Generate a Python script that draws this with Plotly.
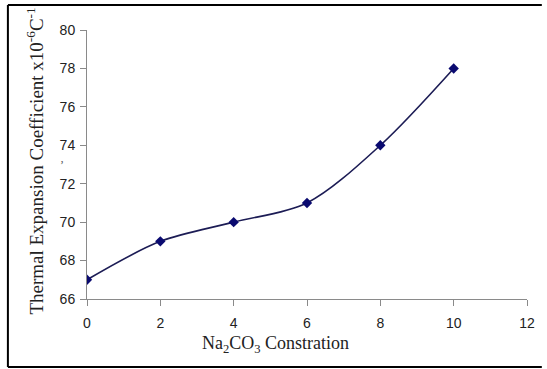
import plotly.graph_objects as go

concentration = [0, 2, 4, 6, 8, 10]
coefficient = [67, 69, 70, 71, 74, 78]
x_ticks = [0, 2, 4, 6, 8, 10, 12]
y_ticks = [66, 68, 70, 72, 74, 76, 78, 80]

W, H = 547, 369
L, R, T, B = 87, 15, 30, 70
pw, ph = W - L - R, H - T - B

def px(x):
    return (x - L) / pw

def py(y):
    return (H - B - y) / ph

fig = go.Figure()
fig.add_trace(go.Scatter(
    x=concentration, y=coefficient, mode="lines+markers",
    line=dict(color="#1c1c55", width=1.6, shape="spline", smoothing=0.9),
    marker=dict(symbol="diamond", size=8, color="#0a0a70"),
    showlegend=False,
))

axis_common = dict(
    showgrid=False, zeroline=False, showline=True, linecolor="#8a8a8a", linewidth=1,
    ticks="outside", ticklen=6, tickcolor="#8a8a8a", tickwidth=1,
    tickfont=dict(family="Liberation Sans, Arial", size=14, color="#222"),
)
fig.update_xaxes(range=[0, 12], tickvals=x_ticks, ticklabelstandoff=5, **axis_common)
fig.update_yaxes(range=[66, 80], tickvals=y_ticks, ticklabelstandoff=2, **axis_common)

fig.update_layout(
    width=W, height=H,
    margin=dict(l=L, r=R, t=T, b=B),
    paper_bgcolor="white", plot_bgcolor="white",
    annotations=[
        dict(text="Thermal Expansion Coefficient x10<sup>-6</sup>C<sup>-1</sup>",
             xref="paper", yref="paper", x=px(34), y=py(161), textangle=-90,
             showarrow=False, xanchor="center", yanchor="middle",
             font=dict(family="Liberation Serif, Times New Roman", size=19, color="#222")),
        dict(text="Na<sub>2</sub>CO<sub>3</sub> Constration",
             xref="paper", yref="paper", x=px(278), y=py(345),
             showarrow=False, xanchor="center", yanchor="middle",
             font=dict(family="Liberation Serif, Times New Roman", size=18, color="#222")),
        dict(text="ʼ", xref="paper", yref="paper", x=px(58), y=py(165),
             showarrow=False, font=dict(family="Liberation Serif", size=12, color="#555")),
    ],
    shapes=[
        dict(type="line", xref="paper", yref="paper", x0=px(7), x1=px(547), y0=py(5), y1=py(5),
             line=dict(color="black", width=2)),
        dict(type="line", xref="paper", yref="paper", x0=px(7), x1=px(547), y0=py(367), y1=py(367),
             line=dict(color="black", width=2)),
        dict(type="line", xref="paper", yref="paper", x0=px(7), x1=px(7), y0=py(5), y1=py(367),
             line=dict(color="black", width=2)),
    ],
)

fig.write_html("out.html")
